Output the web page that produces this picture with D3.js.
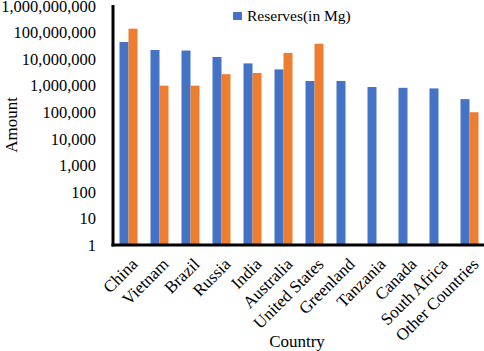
<!DOCTYPE html>
<html>
<head>
<meta charset="utf-8">
<script src="https://cdn.jsdelivr.net/npm/d3@7"></script>
<style>
  body { margin: 0; background: #fff; }
  text { font-family: "Liberation Serif", "Times New Roman", serif; fill: #000; }
</style>
</head>
<body>
<div id="chart"></div>
<script>
const countries = ["China", "Vietnam", "Brazil", "Russia", "India", "Australia",
    "United States", "Greenland", "Tanzania", "Canada", "South Africa", "Other Countries"];
const reserves = [44000000, 22000000, 21000000, 12000000, 6900000, 4100000,
    1500000, 1500000, 890000, 830000, 790000, 310000];
const production = [140000000, 1000000, 1000000, 2700000, 3000000, 17000000,
    38000000, null, null, null, null, 100000];
const yTicks = [1, 10, 100, 1e3, 1e4, 1e5, 1e6, 1e7, 1e8, 1e9];

const width = 484, height = 351;
const margin = {top: 6, right: 0, bottom: 105, left: 113};
const w = width - margin.left - margin.right;
const h = height - margin.top - margin.bottom;

const svg = d3.select("#chart").append("svg")
    .attr("width", width)
    .attr("height", height);
const g = svg.append("g")
    .attr("transform", "translate(" + margin.left + "," + margin.top + ")");

const x = d3.scaleBand().domain(countries).range([0, 372]);
const barW = 9;
const y = d3.scaleLog().domain([1, 1e9]).range([h - 1, 0]);

// bars
const data = countries.map((c, i) => ({c, r: reserves[i], p: production[i]}));
g.selectAll(".blue").data(data).enter().append("rect")
    .attr("x", d => x(d.c) + x.bandwidth() / 2 - barW)
    .attr("width", barW)
    .attr("y", d => y(d.r))
    .attr("height", d => y(1) - y(d.r))
    .attr("fill", "#4472C4");
g.selectAll(".orange").data(data.filter(d => d.p)).enter().append("rect")
    .attr("x", d => x(d.c) + x.bandwidth() / 2)
    .attr("width", barW)
    .attr("y", d => y(d.p))
    .attr("height", d => y(1) - y(d.p))
    .attr("fill", "#ED7D31");

// y axis
const yAxis = g.append("g")
    .call(d3.axisLeft(y).tickValues(yTicks).tickFormat(d3.format(",")).tickSize(0).tickPadding(17));
yAxis.select(".domain").remove();
yAxis.selectAll("text").style("font-size", "16.5px").style("font-family", "Liberation Serif");
g.append("line").attr("x1", 0).attr("x2", 0).attr("y1", -1).attr("y2", y(1) + 1.5)
    .attr("stroke", "#000").attr("stroke-width", 3);

// x axis
const xAxis = g.append("g")
    .attr("transform", "translate(0," + y(1) + ")")
    .call(d3.axisBottom(x).tickSize(0).tickPadding(0));
xAxis.select(".domain").remove();
xAxis.selectAll("text")
    .style("font-size", "17px").style("font-family", "Liberation Serif")
    .style("text-anchor", "end")
    .attr("dy", "0.35em")
    .attr("transform", "translate(6,16) rotate(-45)");
g.append("line").attr("x1", -1.5).attr("x2", w).attr("y1", y(1)).attr("y2", y(1))
    .attr("stroke", "#000").attr("stroke-width", 3);

// titles
svg.append("text")
    .attr("transform", "translate(17," + 125 + ") rotate(-90)")
    .attr("text-anchor", "middle")
    .style("font-size", "17px")
    .text("Amount");
svg.append("text")
    .attr("x", 297).attr("y", 347)
    .attr("text-anchor", "middle")
    .style("font-size", "17px")
    .text("Country");

// legend
svg.append("rect").attr("x", 233).attr("y", 12).attr("width", 9).attr("height", 8).attr("fill", "#4472C4");
svg.append("text").attr("x", 247).attr("y", 21)
    .style("font-size", "15.5px")
    .text("Reserves(in Mg)");
</script>
</body>
</html>
